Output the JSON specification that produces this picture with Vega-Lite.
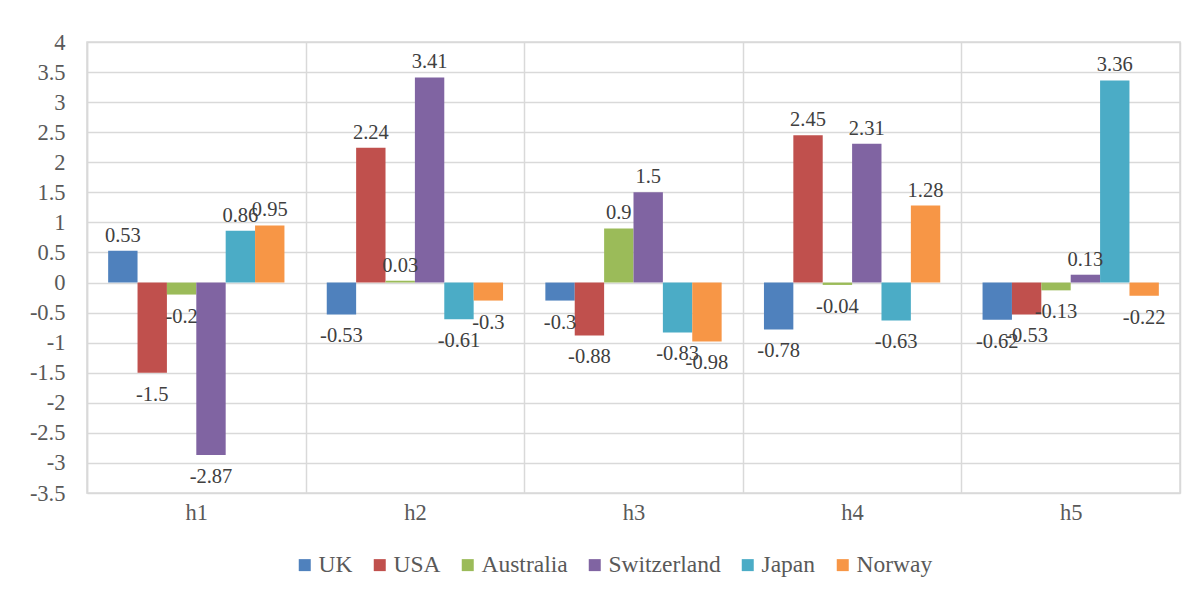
{
  "$schema": "https://vega.github.io/schema/vega-lite/v6.json",
  "width": 1093,
  "height": 451,
  "autosize": {"type": "none"},
  "padding": {"left": 87, "top": 42, "right": 18, "bottom": 98},
  "background": "white",
  "config": {
    "font": "Liberation Serif",
    "axis": {"labelFont": "Liberation Serif"},
    "legend": {"labelFont": "Liberation Serif"},
    "text": {"font": "Liberation Serif"},
    "view": {"stroke": "#d9d9d9", "strokeWidth": 1.5}
  },
  "data": {
    "values": [
      {"horizon": "h1", "country": "UK", "value": 0.53},
      {"horizon": "h1", "country": "USA", "value": -1.5},
      {"horizon": "h1", "country": "Australia", "value": -0.2},
      {"horizon": "h1", "country": "Switzerland", "value": -2.87},
      {"horizon": "h1", "country": "Japan", "value": 0.86},
      {"horizon": "h1", "country": "Norway", "value": 0.95},
      {"horizon": "h2", "country": "UK", "value": -0.53},
      {"horizon": "h2", "country": "USA", "value": 2.24},
      {"horizon": "h2", "country": "Australia", "value": 0.03},
      {"horizon": "h2", "country": "Switzerland", "value": 3.41},
      {"horizon": "h2", "country": "Japan", "value": -0.61},
      {"horizon": "h2", "country": "Norway", "value": -0.3},
      {"horizon": "h3", "country": "UK", "value": -0.3},
      {"horizon": "h3", "country": "USA", "value": -0.88},
      {"horizon": "h3", "country": "Australia", "value": 0.9},
      {"horizon": "h3", "country": "Switzerland", "value": 1.5},
      {"horizon": "h3", "country": "Japan", "value": -0.83},
      {"horizon": "h3", "country": "Norway", "value": -0.98},
      {"horizon": "h4", "country": "UK", "value": -0.78},
      {"horizon": "h4", "country": "USA", "value": 2.45},
      {"horizon": "h4", "country": "Australia", "value": -0.04},
      {"horizon": "h4", "country": "Switzerland", "value": 2.31},
      {"horizon": "h4", "country": "Japan", "value": -0.63},
      {"horizon": "h4", "country": "Norway", "value": 1.28},
      {"horizon": "h5", "country": "UK", "value": -0.62},
      {"horizon": "h5", "country": "USA", "value": -0.53},
      {"horizon": "h5", "country": "Australia", "value": -0.13},
      {"horizon": "h5", "country": "Switzerland", "value": 0.13},
      {"horizon": "h5", "country": "Japan", "value": 3.36},
      {"horizon": "h5", "country": "Norway", "value": -0.22}
    ]
  },
  "encoding": {
    "x": {
      "field": "horizon", "type": "nominal",
      "scale": {"paddingInner": 0, "paddingOuter": 0},
      "axis": {
        "title": null, "orient": "bottom", "domain": false, "ticks": false,
        "grid": true, "gridColor": "#d9d9d9", "gridWidth": 1.5, "tickBand": "extent",
        "labelAngle": 0, "labelFont": "Liberation Serif", "labelFontSize": 22.5,
        "labelColor": "#595959", "labelPadding": 8
      }
    },
    "xOffset": {
      "field": "country", "type": "nominal",
      "sort": ["UK", "USA", "Australia", "Switzerland", "Japan", "Norway"],
      "scale": {"paddingInner": 0, "paddingOuter": 0.72}
    },
    "y": {
      "field": "value", "type": "quantitative",
      "scale": {"domain": [-3.5, 4], "nice": false, "zero": false},
      "axis": {
        "title": null,
        "values": [-3.5, -3, -2.5, -2, -1.5, -1, -0.5, 0, 0.5, 1, 1.5, 2, 2.5, 3, 3.5, 4],
        "labelExpr": "'' + datum.value",
        "labelOverlap": false, "labelBound": false, "labelFlush": false,
        "grid": true, "gridColor": "#d9d9d9", "gridWidth": 1.5,
        "domainColor": "#d9d9d9", "domainWidth": 1.5, "ticks": false,
        "labelFont": "Liberation Serif", "labelFontSize": 22.5,
        "labelColor": "#595959", "labelPadding": 22
      }
    }
  },
  "layer": [
    {
      "mark": {"type": "bar"},
      "encoding": {
        "color": {
          "field": "country", "type": "nominal",
          "sort": ["UK", "USA", "Australia", "Switzerland", "Japan", "Norway"],
          "scale": {
            "domain": ["UK", "USA", "Australia", "Switzerland", "Japan", "Norway"],
            "range": ["#4F81BD", "#C0504D", "#9BBB59", "#8064A2", "#4BACC6", "#F79646"]
          },
          "legend": {
            "title": null, "orient": "none", "legendX": 206, "legendY": 511,
            "direction": "horizontal",
            "symbolType": "square", "symbolSize": 144, "symbolStrokeWidth": 0,
            "labelFont": "Liberation Serif", "labelFontSize": 23.5,
            "labelColor": "#595959", "labelOffset": 2,
            "columnPadding": 15, "labelLimit": 300
          }
        }
      }
    },
    {
      "transform": [{"filter": "datum.value >= 0"}],
      "mark": {"type": "text", "baseline": "bottom", "dy": -5, "font": "Liberation Serif", "fontSize": 20.5, "color": "#404040"},
      "encoding": {
        "text": {"field": "value", "type": "nominal"}
      }
    },
    {
      "transform": [{"filter": "datum.value < 0"}],
      "mark": {"type": "text", "baseline": "top", "dy": 12, "font": "Liberation Serif", "fontSize": 20.5, "color": "#404040"},
      "encoding": {
        "text": {"field": "value", "type": "nominal"}
      }
    },
    {
      "data": {"values": [{}]},
      "mark": {"type": "rule", "color": "#c4c4c4", "strokeWidth": 1.5},
      "encoding": {
        "x": null,
        "xOffset": null,
        "y": {
          "datum": 0, "type": "quantitative",
          "axis": {
            "title": null,
            "values": [-3.5, -3, -2.5, -2, -1.5, -1, -0.5, 0, 0.5, 1, 1.5, 2, 2.5, 3, 3.5, 4],
            "labelExpr": "'' + datum.value",
            "labelOverlap": false, "labelBound": false, "labelFlush": false,
            "grid": true, "gridColor": "#d9d9d9", "gridWidth": 1.5,
            "domainColor": "#d9d9d9", "domainWidth": 1.5, "ticks": false,
            "labelFont": "Liberation Serif", "labelFontSize": 22.5,
            "labelColor": "#595959", "labelPadding": 22
          }
        }
      }
    }
  ]
}
